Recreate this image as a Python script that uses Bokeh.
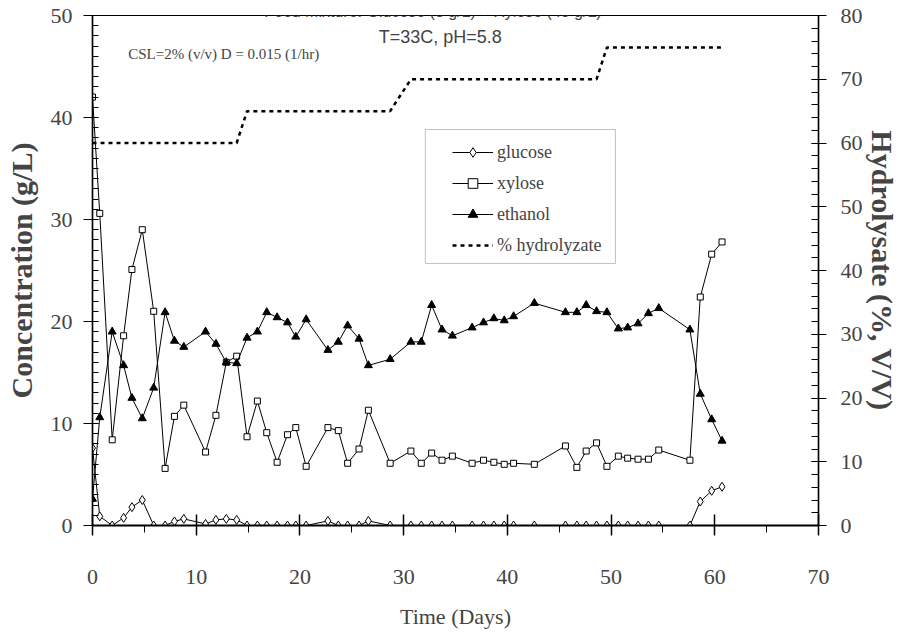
from bokeh.plotting import figure
from bokeh.models import (Range1d, LinearAxis, SingleIntervalTicker, Legend,
                          LegendItem, Label, BoxAnnotation)
from bokeh.embed import file_html
from bokeh.resources import INLINE

# Sampling times (days) of the continuous fermentation
days = [0, 0.7, 1.9, 3.0, 3.8, 4.8, 5.9, 7.0, 7.9, 8.8,
        10.9, 11.9, 12.9, 13.9, 14.9, 15.9, 16.8, 17.8, 18.8, 19.6,
        20.6, 22.7, 23.7, 24.6, 25.7, 26.6, 28.7, 30.7, 31.7, 32.7,
        33.7, 34.7, 36.6, 37.7, 38.7, 39.7, 40.6, 42.6, 45.6, 46.7,
        47.6, 48.6, 49.6, 50.7, 51.6, 52.6, 53.6, 54.6, 57.6, 58.6,
        59.7, 60.7]

# Concentrations (g/L)
glucose = [7.6, 0.9, 0.0, 0.75, 1.8, 2.5, 0.0, 0.0, 0.4, 0.65,
           0.15, 0.55, 0.65, 0.55, 0, 0, 0, 0, 0, 0,
           0, 0.45, 0, 0, 0, 0.45, 0, 0, 0, 0,
           0, 0, 0, 0, 0, 0, 0, 0, 0, 0,
           0, 0, 0, 0, 0, 0, 0, 0, 0, 2.35,
           3.4, 3.8]

xylose = [42.0, 30.6, 8.4, 18.6, 25.1, 29.0, 21.0, 5.6, 10.7, 11.8,
          7.2, 10.8, 16.0, 16.6, 8.7, 12.2, 9.1, 6.2, 8.9, 9.6,
          5.8, 9.6, 9.3, 6.1, 7.5, 11.3, 6.1, 7.3, 6.1, 7.1,
          6.4, 6.8, 6.1, 6.4, 6.2, 6.0, 6.1, 6.0, 7.8, 5.7,
          7.3, 8.1, 5.8, 6.8, 6.6, 6.5, 6.5, 7.4, 6.4, 22.4,
          26.6, 27.8]

ethanol = [2.6, 10.6, 19.0, 15.7, 12.5, 10.5, 13.5, 20.9, 18.1, 17.5,
           19.0, 17.8, 16.0, 15.9, 18.4, 19.0, 20.9, 20.4, 19.9, 18.5,
           20.2, 17.2, 18.0, 19.6, 18.3, 15.7, 16.3, 18.0, 18.0, 21.6,
           19.2, 18.6, 19.4, 19.9, 20.3, 20.1, 20.5, 21.8, 20.9, 20.9,
           21.6, 21.0, 20.9, 19.3, 19.4, 19.8, 20.8, 21.3, 19.2, 12.9,
           10.4, 8.3]

# Hydrolyzate fraction in the feed (% v/v)
hydrolyzate = [60, 60, 60, 60, 60, 60, 60, 60, 60, 60,
               60, 60, 60, 60, 65, 65, 65, 65, 65, 65,
               65, 65, 65, 65, 65, 65, 65, 70, 70, 70,
               70, 70, 70, 70, 70, 70, 70, 70, 70, 70,
               70, 70, 75, 75, 75, 75, 75, 75, 75, 75,
               75, 75]

SERIF = "Liberation Serif"
SANS = "Liberation Sans"

p = figure(width=901, height=635, output_backend="svg", toolbar_location=None,
           x_range=Range1d(0, 70), y_range=Range1d(0, 50),
           min_border_left=92, min_border_right=76,
           min_border_top=15, min_border_bottom=110)
p.extra_y_ranges = {"pct": Range1d(0, 80)}
p.xgrid.visible = False
p.ygrid.visible = False
p.outline_line_color = "black"
p.outline_line_width = 1.2
p.background_fill_color = "white"
p.border_fill_color = "white"

# Bottom axis
xa = p.xaxis[0]
xa.ticker = SingleIntervalTicker(interval=10, num_minor_ticks=2)
xa.axis_label = "Time (Days)"
xa.axis_label_text_font = SERIF
xa.axis_label_text_font_size = "22px"
xa.axis_label_text_font_style = "normal"
xa.axis_label_standoff = 17
xa.major_label_text_font = SERIF
xa.major_label_text_font_size = "22px"
xa.major_label_standoff = 34
xa.major_tick_in = 11
xa.major_tick_out = 10
xa.minor_tick_in = 0
xa.minor_tick_out = 7
xa.axis_line_width = 2
xa.major_tick_line_width = 1.5

# Left axis
ya = p.yaxis[0]
ya.ticker = SingleIntervalTicker(interval=10, num_minor_ticks=10)
ya.axis_label = "Concentration (g/L)"
ya.axis_label_text_font = SERIF
ya.axis_label_text_font_size = "30px"
ya.axis_label_text_font_style = "bold"
ya.axis_label_standoff = 10
ya.major_label_text_font = SERIF
ya.major_label_text_font_size = "22px"
ya.major_label_standoff = 11
ya.major_tick_in = 6
ya.major_tick_out = 9
ya.minor_tick_in = 6
ya.minor_tick_out = 0
ya.axis_line_width = 1.5

# Right axis for the hydrolyzate fraction
ra = LinearAxis(y_range_name="pct",
                ticker=SingleIntervalTicker(interval=10, num_minor_ticks=5))
ra.axis_label = "Hydrolysate (%, V/V)"
ra.axis_label_text_font = SERIF
ra.axis_label_text_font_size = "30px"
ra.axis_label_text_font_style = "bold"
ra.axis_label_standoff = 0
ra.major_label_text_font = SERIF
ra.major_label_text_font_size = "22px"
ra.major_label_standoff = 14
ra.major_tick_in = 7
ra.major_tick_out = 8
ra.minor_tick_in = 7
ra.minor_tick_out = 0
ra.axis_line_width = 1.5
p.add_layout(ra, "right")

# Data series
h_line = p.line(days, hydrolyzate, y_range_name="pct", line_color="black",
                line_width=2.5, line_dash="4 4")

g_line = p.line(days, glucose, line_color="black", line_width=1)
g_pts = p.scatter(days, glucose, marker="diamond", size=9,
                  fill_color="white", line_color="black", line_width=1)

x_line = p.line(days, xylose, line_color="black", line_width=1)
x_pts = p.scatter(days, xylose, marker="square", size=6,
                  fill_color="white", line_color="black", line_width=1)

e_line = p.line(days, ethanol, line_color="black", line_width=1)
e_pts = p.scatter(days, ethanol, marker="triangle", size=8,
                  fill_color="black", line_color="black", line_width=1)

# Legend frame and entries
p.add_layout(BoxAnnotation(left=32.09, right=50.42, bottom=25.69, top=38.82,
                           fill_alpha=0, line_color="#333333", line_width=1))
legend = Legend(items=[
    LegendItem(label="glucose", renderers=[g_line, g_pts]),
    LegendItem(label="xylose", renderers=[x_line, x_pts]),
    LegendItem(label="ethanol", renderers=[e_line, e_pts]),
    LegendItem(label="% hydrolyzate", renderers=[h_line]),
], location=(360, 268), padding=0, margin=0,
   border_line_alpha=0, background_fill_alpha=0,
   glyph_width=41, glyph_height=24, label_height=24, spacing=7,
   label_standoff=4, label_text_font=SERIF, label_text_font_size="18px")
p.add_layout(legend)

# Annotations
p.add_layout(Label(x=33.04, y=50.4, text="Feed Mixture:  Glucose (8 g/L) + Xylose (40 g/L)",
                   text_align="center", text_baseline="alphabetic",
                   text_font=SANS, text_font_size="16px"))
p.add_layout(Label(x=3.44, y=46.27, text="CSL=2% (v/v) D = 0.015 (1/hr)",
                   text_baseline="middle", text_font=SERIF, text_font_size="15px"))
p.add_layout(Label(x=27.6, y=47.94, text="T=33C, pH=5.8",
                   text_baseline="middle", text_font=SANS, text_font_size="18px"))

open("out.html", "w").write(file_html(p, INLINE))
